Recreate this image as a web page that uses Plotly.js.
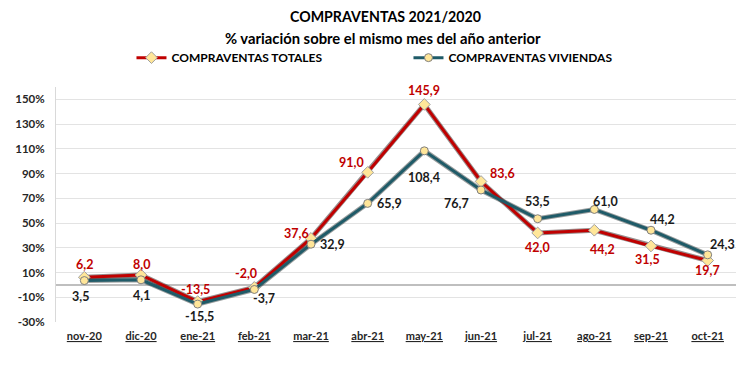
<!DOCTYPE html>
<html>
<head>
<meta charset="utf-8">
<script src="https://cdn.plot.ly/plotly-3.0.1.min.js"></script>
<style>html,body{margin:0;padding:0;background:#fff;}#chart{width:750px;height:380px;}</style>
</head>
<body>
<div id="chart"></div>
<script>
const categories = ['nov-20','dic-20','ene-21','feb-21','mar-21','abr-21','may-21','jun-21','jul-21','ago-21','sep-21','oct-21'];
const totales = [6.2, 8.0, -13.5, -2.0, 37.6, 91.0, 145.9, 83.6, 42.0, 44.2, 31.5, 19.7];
const viviendas = [3.5, 4.1, -15.5, -3.7, 32.9, 65.9, 108.4, 76.7, 53.5, 61.0, 44.2, 24.3];
const yTicks = [-30, -10, 10, 30, 50, 70, 90, 110, 130, 150];

// label offsets (pixels) – styling only
const totShiftX = [0, 0, -2, -8, -15, -16, 0, 21, 0, 8, -4, 0];
const totShiftY = [13, 11, 12, 14, 5, 10, 14, 8, -15, -19, -14, -10];
const vivShiftX = [-4, 0, 2, 10, 21, 22, 0, -25, 0, 11, 11, 15];
const vivShiftY = [-16, -16, -12, -9, 0, 0, -27, -13, 17, 8, 11, 10];

const fmt = v => v.toFixed(1).replace('.', ',');
const RED = '#C00000', TEAL = '#1F5B68', FILL = '#FFE699';
const FONT = 'Lato, "Open Sans", sans-serif';

const traces = [
  {x: categories, y: totales, mode: 'lines', line: {color: 'rgba(50,30,30,0.5)', width: 5}, showlegend: false, hoverinfo: 'skip'},
  {x: categories, y: viviendas, mode: 'lines', line: {color: 'rgba(30,40,40,0.45)', width: 5}, showlegend: false, hoverinfo: 'skip'},
  {x: categories, y: totales, name: 'COMPRAVENTAS TOTALES', mode: 'lines+markers',
   line: {color: RED, width: 3},
   marker: {symbol: 'diamond', size: 9, color: FILL, line: {color: '#A0A0A0', width: 1}}},
  {x: categories, y: viviendas, name: 'COMPRAVENTAS VIVIENDAS', mode: 'lines+markers',
   line: {color: TEAL, width: 3},
   marker: {symbol: 'circle', size: 8, color: FILL, line: {color: '#7F7F7F', width: 1}}}
];

const annotations = [];
categories.forEach((c, i) => {
  annotations.push({x: c, y: totales[i], xref: 'x', yref: 'y', text: fmt(totales[i]), showarrow: false,
    xshift: totShiftX[i], yshift: totShiftY[i], font: {family: FONT, size: 12.5, color: RED, weight: 'bold'}});
  annotations.push({x: c, y: viviendas[i], xref: 'x', yref: 'y', text: fmt(viviendas[i]), showarrow: false,
    xshift: vivShiftX[i], yshift: vivShiftY[i], font: {family: FONT, size: 12.5, color: '#1A1A1A', weight: 'bold'}});
});
annotations.push({xref: 'paper', yref: 'paper', x: 0.484, y: 1.298, xanchor: 'center', yanchor: 'middle',
  text: 'COMPRAVENTAS 2021/2020', showarrow: false,
  font: {family: FONT, size: 14.2, color: '#000', weight: 'bold'}});
annotations.push({xref: 'paper', yref: 'paper', x: 0.481, y: 1.21, xanchor: 'center', yanchor: 'middle',
  text: '% variación sobre el mismo mes del año anterior', showarrow: false,
  font: {family: FONT, size: 14.8, color: '#000', weight: 'bold'}});

const layout = {
  width: 750, height: 380,
  margin: {l: 56, r: 14, t: 87, b: 58},
  paper_bgcolor: '#fff', plot_bgcolor: '#fff',
  showlegend: true,
  legend: {orientation: 'h', x: 0.111, y: 1.125, xanchor: 'left', yanchor: 'middle',
    entrywidth: 232, entrywidthmode: 'pixels', itemwidth: 30,
    font: {family: FONT, size: 12, color: '#000', weight: 'bold'}, traceorder: 'normal'},
  xaxis: {type: 'category', range: [-0.5, 11.5], showgrid: false, zeroline: false, showline: false,
    tickmode: 'array', tickvals: categories, ticktext: categories.map(c => '<u>' + c + '</u>'),
    ticks: '', ticklabelstandoff: 6,
    tickfont: {family: FONT, size: 11, color: '#262626', weight: 'bold'}},
  yaxis: {range: [-30, 160], tickmode: 'array', tickvals: yTicks, ticktext: yTicks.map(v => v + '%'),
    showgrid: true, gridcolor: '#E3E3E3', gridwidth: 1,
    zeroline: true, zerolinecolor: '#BFBFBF', zerolinewidth: 2,
    showline: true, linecolor: '#D9D9D9', linewidth: 1, ticks: '', ticklabelstandoff: 8,
    tickfont: {family: FONT, size: 11.5, color: '#262626', weight: 'bold'}},
  annotations: annotations
};

Plotly.newPlot('chart', traces, layout, {displayModeBar: false, staticPlot: true});
</script>
</body>
</html>
